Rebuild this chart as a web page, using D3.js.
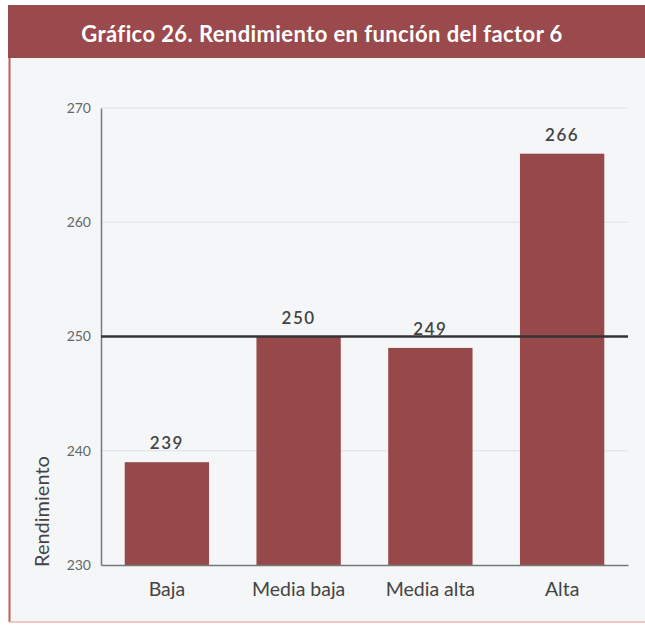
<!DOCTYPE html>
<html>
<head>
<meta charset="utf-8">
<script src="https://cdn.jsdelivr.net/npm/d3@7"></script>
<style>
  body { margin: 0; background: #fff; }
  text { font-family: Lato, "Open Sans", sans-serif; }
  .gridline { stroke: #dde2ea; stroke-width: 1; }
</style>
</head>
<body>
<div id="grafico"></div>
<script>
var categorias = ["Baja", "Media baja", "Media alta", "Alta"];
var rendimiento = [239, 250, 249, 266];
var yTicks = [230, 240, 250, 260, 270];
var media = 250;
var titulo = "Gráfico 26. Rendimiento en función del factor 6";

var W = 645, H = 625;
var margin = { top: 108, left: 101, right: 17, bottom: 60 };
var width = W - margin.left - margin.right;
var height = H - margin.top - margin.bottom;

var svg = d3.select("#grafico")
  .append("svg")
  .attr("width", W)
  .attr("height", H);

// marco
svg.append("rect")
  .attr("x", 9).attr("y", 5)
  .attr("width", W - 9).attr("height", 617)
  .attr("fill", "#f4f6f8");
svg.append("rect")
  .attr("x", 8).attr("y", 5)
  .attr("width", W - 8).attr("height", 53)
  .attr("fill", "#9a4a4c");
svg.append("line")
  .attr("x1", 9.5).attr("x2", 9.5)
  .attr("y1", 58).attr("y2", 622)
  .attr("stroke", "#bf5f5a").attr("stroke-width", 2);
svg.append("line")
  .attr("x1", 9).attr("x2", W)
  .attr("y1", 622).attr("y2", 622)
  .attr("stroke", "#e8b8b0").attr("stroke-width", 1.5);

svg.append("text")
  .attr("x", 322).attr("y", 42)
  .attr("text-anchor", "middle")
  .attr("fill", "#fff")
  .style("font-size", "22px")
  .style("font-weight", "700")
  .style("letter-spacing", "0.4px")
  .text(titulo);

var g = svg.append("g")
  .attr("transform", "translate(" + margin.left + "," + margin.top + ")");

var x = d3.scaleBand()
  .domain(categorias)
  .range([0, width])
  .paddingInner(0.36)
  .paddingOuter(0.18);

var y = d3.scaleLinear()
  .domain([230, 270])
  .range([height, 0]);

g.append("g")
  .selectAll("line")
  .data(yTicks.slice(1))
  .enter().append("line")
  .attr("class", "gridline")
  .attr("x1", 0)
  .attr("x2", width)
  .attr("y1", d => y(d))
  .attr("y2", d => y(d));

var yAxis = g.append("g")
  .call(d3.axisLeft(y).tickValues(yTicks).tickSize(0).tickPadding(10));
yAxis.select(".domain").attr("stroke", "#777").attr("stroke-width", 1.5);
yAxis.selectAll("text")
  .attr("fill", "#666")
  .style("font-size", "14px");

var data = categorias.map((c, i) => ({ cat: c, val: rendimiento[i] }));

g.selectAll(".barra")
  .data(data)
  .enter().append("rect")
  .attr("class", "barra")
  .attr("x", d => x(d.cat))
  .attr("width", x.bandwidth())
  .attr("y", d => y(d.val))
  .attr("height", d => height - y(d.val))
  .attr("fill", "#96484a");

g.append("line")
  .attr("x1", 0).attr("x2", width)
  .attr("y1", y(media)).attr("y2", y(media))
  .attr("stroke", "#333").attr("stroke-width", 2.5);

g.selectAll(".valor")
  .data(data)
  .enter().append("text")
  .attr("class", "valor")
  .attr("x", d => x(d.cat) + x.bandwidth() / 2)
  .attr("y", d => y(d.val) - 13)
  .attr("text-anchor", "middle")
  .attr("fill", "#444")
  .style("font-size", "17px")
  .style("font-weight", "600")
  .style("letter-spacing", "1.5px")
  .text(d => d.val);

var xAxis = g.append("g")
  .attr("transform", "translate(0," + height + ")")
  .call(d3.axisBottom(x).tickSize(0).tickPadding(17));
xAxis.select(".domain").attr("stroke", "#777").attr("stroke-width", 1.5);
xAxis.selectAll("text")
  .attr("fill", "#444")
  .style("font-size", "19.5px");

svg.append("text")
  .attr("transform", "translate(49," + (margin.top + height + 2) + ")rotate(-90)")
  .attr("text-anchor", "start")
  .attr("fill", "#444")
  .style("font-size", "20px")
  .text("Rendimiento");
</script>
</body>
</html>
